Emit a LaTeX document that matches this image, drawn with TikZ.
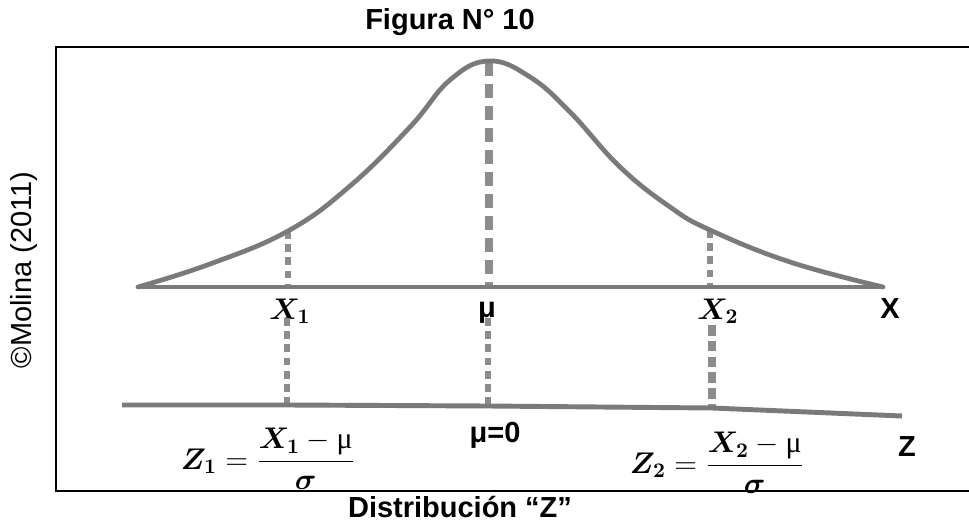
\documentclass[tikz,border=0pt]{standalone}
\usepackage{amsmath, bm}
\usepackage{fontspec}
\setsansfont{Liberation Sans}
\newfontfamily\muserif{Liberation Serif}
\usetikzlibrary{calc}
\definecolor{curvegray}{RGB}{122,122,122}
\definecolor{dashgray}{RGB}{140,140,140}

\begin{document}
\begin{tikzpicture}[
        x=0.02cm, y=-0.02cm,
        curve/.style={draw=curvegray, line width=2.7pt, line join=round, line cap=round},
        axis/.style={draw=curvegray, line width=2.4pt},
        guide/.style={draw=dashgray, line width=3.4pt, dash pattern=on 4.5pt off 3pt},
        meanguide/.style={draw=dashgray, line width=4pt, dash pattern=on 8pt off 4.5pt},
        frame/.style={draw=black, line width=1.1pt},
        lbl/.style={font=\sffamily\bfseries\fontsize{16.5}{19}\selectfont, inner sep=0pt},
        mlbl/.style={font=\fontsize{14.4}{17}\selectfont, inner sep=0pt, scale=1.18, transform shape}
    ]
        \useasboundingbox (0,0) rectangle (969,526);

        % ================= MARCO =================
        \draw[frame] (969,47) -- (56,47) -- (56,491) -- (969,491);
        \node[lbl] (title) at (450,22) {Figura N° 10};
        \node[font=\sffamily\fontsize{16.5}{19}\selectfont, inner sep=0pt, rotate=90] (credit) at (24,270) {©Molina (2011)};

        % ================= PUNTOS =================
        \coordinate (xl) at (138,287);
        \coordinate (xr) at (883,287);
        \coordinate (c1) at (288,231);
        \coordinate (cm) at (489,62);
        \coordinate (c2) at (710,230);
        \coordinate (a1) at (288,287);
        \coordinate (am) at (489,287);
        \coordinate (a2) at (710,287);
        \coordinate (zl) at (122,405);
        \coordinate (z1) at (287,405);
        \coordinate (zm) at (488,406);
        \coordinate (z2) at (712,408);
        \coordinate (zr) at (902,416);

        % ================= EJE X Y CURVA =================
        \draw[guide] (c1) -- (a1);
        \draw[meanguide] (cm) -- (am);
        \draw[guide] (c2) -- (a2);
        \draw[axis] (xl) -- (xr);
        \draw[curve] plot[smooth, tension=0.7] coordinates {(138,287) (210,264) (288,231) (350,186) (410,127) (450,80) (489,61) (530,77) (570,112) (620,167) (670,207) (710,230) (790,262) (883,287)};

        \node[mlbl] (lx1) at (290,311) {$\bm{X_1}$};
        \node[lbl] (lmu) at (487,313) {μ};
        \node[mlbl] (lx2) at (718,311) {$\bm{X_2}$};
        \node[lbl] (lx) at (890,309) {X};

        % ================= EJE Z =================
        \draw[guide] ($(a1)+(-1,31)$) -- (z1);
        \draw[guide, line width=3pt] ($(am)+(-1,31)$) -- (zm);
        \draw[guide, line width=4.5pt, dash pattern=on 6pt off 3pt] ($(a2)+(2,38)$) -- (z2);
        \draw[axis, line width=2.8pt] (zl) -- (z1) -- (zm) -- (z2) -- (zr);

        \node[lbl] (lmu0) at (495,435) {μ=0};
        \node[lbl] (lz) at (907,447) {Z};
        \node[mlbl] (lz1) at (268,459) {$\bm{Z_1} = \dfrac{\bm{X_1} - \text{\muserif μ}}{\bm{\sigma}}$};
        \node[mlbl] (lz2) at (717,463) {$\bm{Z_2} = \dfrac{\bm{X_2} - \text{\muserif μ}}{\bm{\sigma}}$};

        \node[lbl] (dist) at (460,507) {Distribución “Z”};
\end{tikzpicture}
\end{document}
